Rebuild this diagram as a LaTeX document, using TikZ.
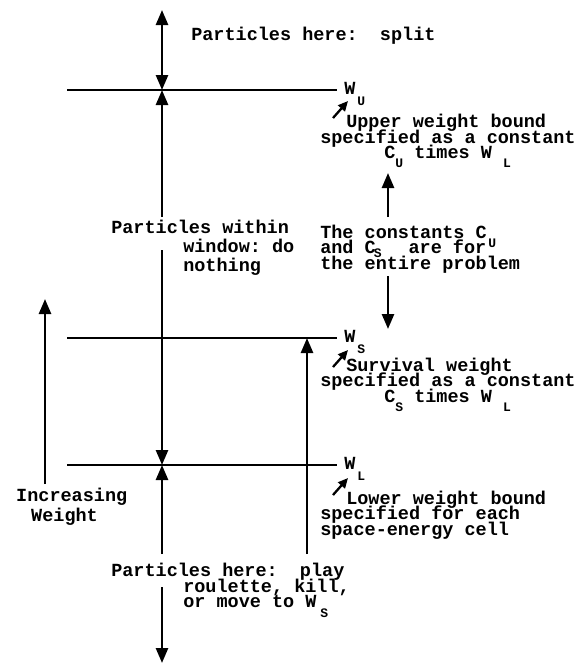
\documentclass[tikz,border=0pt]{standalone}
\usepackage{fontspec}
\setmonofont{Liberation Mono}
\usetikzlibrary{arrows.meta}
\newcommand{\wtfont}{\ttfamily\bfseries\fontsize{18.5}{15.5}\selectfont\lineskiplimit=-100pt}
\newcommand{\lowsub}[2][9pt]{\smash{\raisebox{-#1}{\fontsize{13}{13}\selectfont #2}}}

\begin{document}
\begin{tikzpicture}[x=1pt, y=-1pt, line width=2.5pt,
    txt/.style={font=\wtfont, inner sep=0pt, anchor=base west, align=left},
    bigarrow/.style={-{Triangle[length=15pt, width=12pt]}},
    twoarrow/.style={{Triangle[length=15pt, width=12pt]}-{Triangle[length=15pt, width=12pt]}},
    tinyarrow/.style={line width=2.3pt, -{Triangle[length=10pt, width=9pt]}}]
  \useasboundingbox (0,0) rectangle (584,664);

  % the three weight levels
  \coordinate (uL) at (67,90);   \coordinate (uM) at (162,90);   \coordinate (uR) at (337,90);
  \coordinate (sL) at (67,338);  \coordinate (sM) at (307,338);  \coordinate (sR) at (337,338);
  \coordinate (lL) at (67,465);  \coordinate (lM) at (162,465);  \coordinate (lR) at (337,465);
  \draw (uL) -- (uR);
  \draw (sL) -- (sR);
  \draw (lL) -- (lR);

  % free ends of the arrows
  \coordinate (top)    at (162,10);
  \coordinate (winTop) at (162,217);
  \coordinate (winBot) at (162,250);
  \coordinate (rouTop) at (162,554);
  \coordinate (rouBot) at (162,587);
  \coordinate (bottom) at (162,663);
  \coordinate (sFoot)  at (307,554);
  \coordinate (incTop) at (45,299);
  \coordinate (incBot) at (45,484);
  \coordinate (cUp)    at (388,217);
  \coordinate (cUpTip) at (388,173);
  \coordinate (cDn)    at (388,276);
  \coordinate (cDnTip) at (388,329);

  \draw[twoarrow] (top) -- (uM);
  \draw[bigarrow] (winTop) -- (uM);
  \draw[bigarrow] (winBot) -- (lM);
  \draw[bigarrow] (rouTop) -- (lM);
  \draw[bigarrow] (rouBot) -- (bottom);
  \draw[bigarrow] (sFoot) -- (sM);
  \draw[bigarrow] (incBot) -- (incTop);
  \draw[bigarrow] (cUp) -- (cUpTip);
  \draw[bigarrow] (cDn) -- (cDnTip);

  % labels of the levels
  \node[txt] (wU) at (343,94)  {W\hspace{2pt}\lowsub[11pt]{U}};
  \node[txt] (wS) at (343,342) {W\hspace{2pt}\lowsub[11pt]{S}};
  \node[txt] (wL) at (343,469) {W\hspace{2pt}\lowsub[11pt]{L}};
  \coordinate (uTail) at (333,118);  \coordinate (uTip) at (348,101);
  \coordinate (sTail) at (333,367);  \coordinate (sTip) at (348,350);
  \coordinate (lTail) at (333,495);  \coordinate (lTip) at (348,478);
  \draw[tinyarrow] (uTail) -- (uTip);
  \draw[tinyarrow] (sTail) -- (sTip);
  \draw[tinyarrow] (lTail) -- (lTip);

  \node[txt] (upper) at (319,158) {\hspace*{26pt}Upper weight bound\\specified as a constant\\[-0.5pt]
    \hspace*{64pt}C\lowsub{U} times W \lowsub{L}};
  \node[txt] (const) at (319,269) {The constants C\hspace{1.5pt}\lowsub{U}\\
    and C\hspace{-2pt}\lowsub[4pt]{S}\hspace{27pt}are for\\the entire problem};
  \node[txt] (surv) at (319,402) {\hspace*{26pt}Survival weight\\specified as a constant\\
    \hspace*{64pt}C\lowsub{S} times W \lowsub{L}};
  \node[txt] (lower) at (319,535) {\hspace*{26pt}Lower weight bound\\specified for each\\space-energy cell};

  % what the particles do
  \node[txt] (split)  at (190,40)  {Particles here:\ \ split};
  \node[txt] (within) at (110,271) {Particles within\\[4pt]\hspace*{72pt}window: do\\[3pt]
    \hspace*{72pt}nothing};
  \node[txt] (rou)    at (110,607) {Particles here:\ \ play\\\hspace*{72pt}roulette, kill,\\[-0.5pt]
    \hspace*{72pt}or move to W\hspace{4pt}\lowsub[10pt]{S}};

  \node[txt] (inc) at (15,521) {Increasing\\[4.5pt]\hspace*{15pt}Weight};
\end{tikzpicture}
\end{document}
